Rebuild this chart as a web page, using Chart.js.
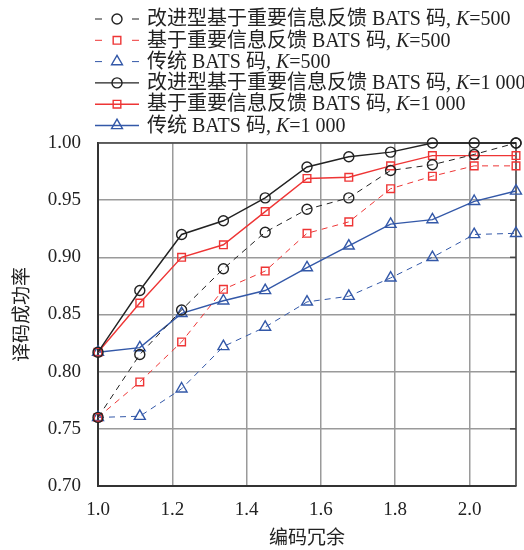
<!DOCTYPE html>
<html><head><meta charset="utf-8">
<script src="https://cdn.jsdelivr.net/npm/chart.js@4/dist/chart.umd.min.js"></script>
<style>html,body{margin:0;padding:0;background:#fff}canvas{display:block}</style>
</head><body>
<canvas id="c" width="524" height="550"></canvas>
<script>
// ---- data ----
const redundancy = [1.0, 1.1125, 1.225, 1.3375, 1.45, 1.5625, 1.675, 1.7875, 1.9, 2.0125, 2.125];
const xTickLabels = ['1.0', '1.2', '1.4', '1.6', '1.8', '2.0'];
const yTickLabels = ['0.70', '0.75', '0.80', '0.85', '0.90', '0.95', '1.00'];
const improved500 = [0.760, 0.815, 0.854, 0.890, 0.922, 0.942, 0.952, 0.976, 0.981, 0.990, 1.000];
const feedback500 = [0.760, 0.791, 0.826, 0.872, 0.888, 0.921, 0.931, 0.960, 0.971, 0.980, 0.980];
const classic500  = [0.760, 0.761, 0.785, 0.822, 0.839, 0.861, 0.866, 0.882, 0.900, 0.920, 0.921];
const improved1000 = [0.817, 0.871, 0.920, 0.932, 0.952, 0.979, 0.988, 0.992, 1.000, 1.000, 1.000];
const feedback1000 = [0.817, 0.860, 0.900, 0.911, 0.940, 0.969, 0.970, 0.980, 0.989, 0.989, 0.989];
const classic1000  = [0.817, 0.821, 0.851, 0.862, 0.871, 0.891, 0.910, 0.929, 0.933, 0.949, 0.958];
const seriesLabels = [
  '改进型基于重要信息反馈 BATS 码, K=500',
  '基于重要信息反馈 BATS 码, K=500',
  '传统 BATS 码, K=500',
  '改进型基于重要信息反馈 BATS 码, K=1 000',
  '基于重要信息反馈 BATS 码, K=1 000',
  '传统 BATS 码, K=1 000'
];
const xTitle = '编码冗余';
const yTitle = '译码成功率';

const BLACK = '#222222', RED = '#ee3535', BLUE = '#3358a8';
const FAM = '"Liberation Serif", "Noto Sans CJK SC", serif';
Chart.defaults.font.family = FAM;
Chart.defaults.color = '#222';

function ds(label, data, color, style, radius, dashed) {
  return {
    label, data: redundancy.map((x, i) => ({x, y: data[i]})),
    borderColor: color, backgroundColor: 'rgba(0,0,0,0)',
    borderWidth: dashed ? 1 : 1.4, borderDash: dashed ? [6, 5] : [],
    pointStyle: style, pointRadius: radius, pointHoverRadius: radius,
    pointBorderColor: color, pointBackgroundColor: 'rgba(0,0,0,0)', pointBorderWidth: 1.4,
    tension: 0, clip: false
  };
}
const datasets = [
  ds(seriesLabels[0], improved500, BLACK, 'circle', 5, true),
  ds(seriesLabels[1], feedback500, RED, 'rect', 5.4, true),
  ds(seriesLabels[2], classic500, BLUE, 'triangle', 6.3, true),
  ds(seriesLabels[3], improved1000, BLACK, 'circle', 5, false),
  ds(seriesLabels[4], feedback1000, RED, 'rect', 5.4, false),
  ds(seriesLabels[5], classic1000, BLUE, 'triangle', 6.3, false)
];

const framePlugin = {
  id: 'frame',
  beforeDatasetsDraw(chart) {
    const {ctx, chartArea: a} = chart;
    ctx.save();
    ctx.strokeStyle = '#444';
    ctx.lineWidth = 1.6;
    ctx.beginPath();
    ctx.moveTo(a.left, a.top); ctx.lineTo(a.right, a.top); ctx.lineTo(a.right, a.bottom);
    ctx.stroke();
    const ys = chart.scales.y;
    ctx.lineWidth = 1.5;
    ys.ticks.forEach(t => {
      const py = ys.getPixelForValue(t.value);
      ctx.beginPath(); ctx.moveTo(a.right, py); ctx.lineTo(a.right - 6, py); ctx.stroke();
    });
    ctx.restore();
  }
};

const legendPlugin = {
  id: 'customLegend',
  afterDraw(chart) {
    const ctx = chart.ctx;
    ctx.save();
    const x0 = 95, x1 = 139, y0 = 19, step = 21.3, tx = 147;
    chart.data.datasets.forEach((d, i) => {
      const y = y0 + i * step;
      ctx.strokeStyle = d.borderColor;
      ctx.lineWidth = d.borderWidth;
      ctx.beginPath();
      if (d.borderDash.length) {
        ctx.moveTo(x0, y); ctx.lineTo(x0 + 7, y);
        ctx.moveTo(x1 - 7, y); ctx.lineTo(x1, y);
      } else {
        ctx.moveTo(x0, y); ctx.lineTo(x1, y);
      }
      ctx.stroke();
      ctx.lineWidth = d.pointBorderWidth;
      ctx.fillStyle = 'rgba(0,0,0,0)';
      Chart.helpers.drawPoint(ctx, {pointStyle: d.pointStyle, radius: d.pointRadius, rotation: 0, borderWidth: d.pointBorderWidth}, (x0 + x1) / 2, y);
      // text with italic K
      ctx.fillStyle = '#222';
      ctx.textBaseline = 'middle';
      ctx.textAlign = 'left';
      const label = d.label;
      const k = label.lastIndexOf('K');
      const parts = [[label.slice(0, k), false], ['K', true], [label.slice(k + 1), false]];
      let px = tx;
      parts.forEach(([t, it]) => {
        ctx.font = (it ? 'italic ' : '') + '20px ' + FAM;
        ctx.fillText(t, px, y + 1);
        px += ctx.measureText(t).width;
      });
    });
    ctx.restore();
  }
};

new Chart(document.getElementById('c'), {
  type: 'line',
  data: {datasets},
  plugins: [framePlugin, legendPlugin],
  options: {
    responsive: false, devicePixelRatio: 1, animation: false,
    layout: {padding: {top: 143, right: 8, left: 0, bottom: 0}},
    plugins: {legend: {display: false}, tooltip: {enabled: false}},
    scales: {
      x: {
        type: 'linear', min: 1.0, max: 2.125,
        afterBuildTicks: s => { s.ticks = xTickLabels.map(v => ({value: parseFloat(v)})); },
        afterFit: s => { s.height = 64; },
        ticks: {callback: v => v.toFixed(1), font: {size: 19}, color: '#222', padding: 13, maxRotation: 0},
        grid: {color: '#9a9a9a', lineWidth: 1.5, drawTicks: false},
        border: {color: '#333', width: 2},
        title: {display: true, text: xTitle, font: {size: 19}, color: '#222', padding: {top: 0, bottom: 0}}
      },
      y: {
        type: 'linear', min: 0.70, max: 1.00,
        afterBuildTicks: s => { s.ticks = yTickLabels.map(v => ({value: parseFloat(v)})); },
        afterFit: s => { s.width = 98; },
        ticks: {callback: v => v.toFixed(2), font: {size: 19}, color: '#222', padding: 17},
        grid: {color: '#9a9a9a', lineWidth: 1.5, drawTicks: false},
        border: {color: '#333', width: 2},
        title: {display: true, text: yTitle, font: {size: 19}, color: '#222', padding: {top: 12, bottom: 0}}
      }
    }
  }
});
</script>
</body></html>
